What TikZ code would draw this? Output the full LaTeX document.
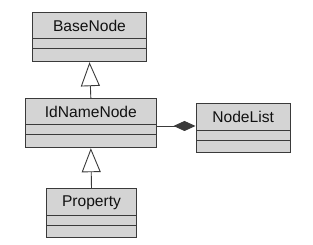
\documentclass[tikz,border=0pt]{standalone}
\usepackage{fontspec}
\setmainfont{Liberation Sans}
\usetikzlibrary{arrows.meta}
\definecolor{boxfill}{HTML}{D4D4D4}
\definecolor{boxline}{HTML}{3A3A3A}
\definecolor{txt}{HTML}{111111}
\begin{document}
\begin{tikzpicture}[x=1pt,y=1pt,
  cls/.style={draw=boxline, fill=boxfill, line width=1pt, rectangle, inner sep=0pt},
  title/.style={font=\fontsize{15.6}{17}\selectfont, text=txt, inner sep=0pt},
  sep/.style={draw=boxline, line width=1pt},
  inherit/.style={draw=boxline, line width=0.9pt, -{Triangle[open, width=19pt, length=24pt, fill=white]}},
  compose/.style={draw=boxline, line width=0.9pt, -{Diamond[width=10pt, length=22pt]}}]
\useasboundingbox (0,0) rectangle (313,-245);
% BaseNode
\node[cls, minimum width=113.6pt, minimum height=49pt] (base) at (89.5,-37.2) {};
\draw[sep] (32.7,-38.3) -- (146.3,-38.3);
\draw[sep] (32.7,-48.3) -- (146.3,-48.3);
\node[title] (baset) at (89.5,-25.5) {BaseNode};
% IdNameNode
\node[cls, minimum width=130.3pt, minimum height=48.7pt] (idn) at (90.85,-123.35) {};
\draw[sep] (25.7,-125) -- (156,-125);
\draw[sep] (25.7,-135) -- (156,-135);
\node[title] (idnt) at (90.85,-112) {IdNameNode};
% NodeList
\node[cls, minimum width=94.3pt, minimum height=49pt] (nl) at (243.15,-128.2) {};
\draw[sep] (196,-130.7) -- (290.3,-130.7);
\draw[sep] (196,-140.7) -- (290.3,-140.7);
\node[title] (nlt) at (243.15,-117.2) {NodeList};
% Property
\node[cls, minimum width=90.4pt, minimum height=49pt] (prop) at (91.5,-213.5) {};
\draw[sep] (46.3,-216) -- (136.7,-216);
\draw[sep] (46.3,-226) -- (136.7,-226);
\node[title] (propt) at (91.5,-202.5) {Property};
% connectors
\coordinate (cy) at (0,-126);
\draw[inherit] (idn.north) -- (base.south);
\draw[inherit] (prop.north) -- (idn.south);
\draw[compose] (idn.east |- cy) -- (nl.west |- cy);
\end{tikzpicture}
\end{document}
